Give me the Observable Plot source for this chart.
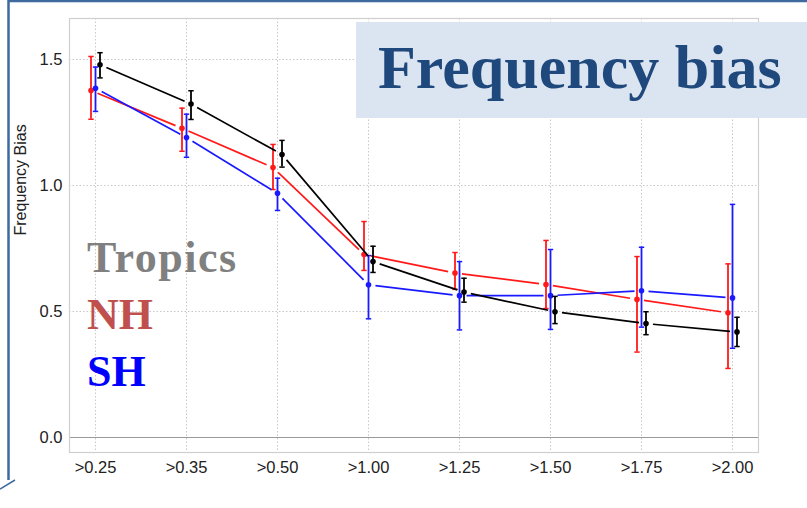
<!DOCTYPE html>
<html>
<head>
<meta charset="utf-8">
<script src="https://cdn.jsdelivr.net/npm/d3@7"></script>
<script src="https://cdn.jsdelivr.net/npm/@observablehq/plot@0.6"></script>
<style>
  html, body { margin: 0; padding: 0; background: #fff; overflow: hidden; }
  #chart svg { display: block; }
</style>
</head>
<body>
<div id="chart"></div>
<script>
const categories = [">0.25", ">0.35", ">0.50", ">1.00", ">1.25", ">1.50", ">1.75", ">2.00"];
const yTicks = [0, 0.5, 1.0, 1.5];

const tropics   = [1.479, 1.323, 1.123, 0.698, 0.577, 0.499, 0.452, 0.419];
const tropicsLo = [1.427, 1.262, 1.073, 0.655, 0.537, 0.452, 0.408, 0.361];
const tropicsHi = [1.527, 1.376, 1.179, 0.759, 0.632, 0.560, 0.499, 0.477];

const nh   = [1.377, 1.227, 1.071, 0.726, 0.653, 0.607, 0.548, 0.495];
const nhLo = [1.263, 1.136, 0.984, 0.663, 0.588, 0.512, 0.339, 0.274];
const nhHi = [1.512, 1.307, 1.163, 0.857, 0.734, 0.782, 0.718, 0.689];

const sh   = [1.386, 1.190, 0.969, 0.606, 0.563, 0.563, 0.582, 0.554];
const shLo = [1.294, 1.112, 0.901, 0.471, 0.427, 0.429, 0.438, 0.354];
const shHi = [1.470, 1.283, 1.029, 0.722, 0.698, 0.746, 0.755, 0.925];

const seriesNames = ["NH", "SH", "Tropics"];
const seriesColors = ["#ff1a1a", "#1a1aff", "#000000"];
const seriesOffsets = [-4.5, 0, 4.5];
const legendColors = ["#808080", "#c0504d", "#0000ff"];
const legendLabels = ["Tropics", "NH", "SH"];
const titleText = "Frequency bias";
const yLabel = "Frequency Bias";

function rowsOf(v, lo, hi) {
  return categories.map((c, i) => ({cat: c, v: v[i], lo: lo[i], hi: hi[i]}));
}
function segsOf(rows) {
  return rows.slice(0, -1).map((r, i) => ({c1: r.cat, v1: r.v, c2: rows[i + 1].cat, v2: rows[i + 1].v}));
}
const seriesRows = [rowsOf(nh, nhLo, nhHi), rowsOf(sh, shLo, shHi), rowsOf(tropics, tropicsLo, tropicsHi)];

// horizontal cap symbol for error bars
const capSymbol = {draw(ctx) { ctx.moveTo(-2.7, 0); ctx.lineTo(2.7, 0); }};

const seriesMarks = seriesRows.flatMap((rows, k) => {
  const stroke = seriesColors[k], dx = seriesOffsets[k];
  return [
    Plot.arrow(segsOf(rows), {x1: "c1", y1: "v1", x2: "c2", y2: "v2", stroke, strokeWidth: 1.7,
      headLength: 0, inset: 7, insetStart: 7, insetEnd: 7, strokeLinecap: "butt", dx}),
    Plot.ruleX(rows, {x: "cat", y1: "lo", y2: "hi", stroke, strokeWidth: 1.8, dx}),
    Plot.dot(rows, {x: "cat", y: "lo", symbol: capSymbol, stroke, strokeWidth: 1.5, fill: "none", dx}),
    Plot.dot(rows, {x: "cat", y: "hi", symbol: capSymbol, stroke, strokeWidth: 1.5, fill: "none", dx}),
    Plot.dot(rows, {x: "cat", y: "v", fill: stroke, r: 2.8, dx})
  ];
});

const chart = Plot.plot({
  width: 807,
  height: 508,
  marginLeft: 69,
  marginRight: 49,
  marginTop: 18,
  marginBottom: 56,
  style: {fontFamily: "'Liberation Sans', Arial, sans-serif", fontSize: "16.5px", color: "#222", background: "#fff"},
  x: {type: "point", domain: categories, padding: 0.28, label: null, tickSize: 0, tickPadding: 9},
  y: {domain: [-0.0595, 1.6627], ticks: yTicks, tickFormat: d3.format(".1f"), label: null, tickSize: 0, tickPadding: 7},
  marks: [
    Plot.ruleX(categories, {x: d => d, stroke: "#c8c8c8", strokeDasharray: "1.5,2", strokeWidth: 1}),
    Plot.ruleY(yTicks.slice(1), {y: d => d, stroke: "#c8c8c8", strokeDasharray: "1.5,2", strokeWidth: 1}),
    Plot.ruleY([0], {y: d => d, stroke: "#999", strokeWidth: 1.2}),
    Plot.frame({stroke: "#cfcfcf", strokeWidth: 1.2}),
    Plot.text([yLabel], {frameAnchor: "left", text: d => d, rotate: -90, dx: -48.5, fontSize: 16, fill: "#222"}),
    ...seriesMarks
  ]
});
document.getElementById("chart").appendChild(chart);

// Slide decorations: title box, text legend, frame lines
const svg = d3.select(chart);
svg.append("rect").attr("x", 356).attr("y", 22).attr("width", 451).attr("height", 96).attr("fill", "#dbe5f1");
svg.append("text").attr("x", 378).attr("y", 88).attr("text-anchor", "start")
  .attr("font-family", "'Liberation Serif', 'DejaVu Serif', serif").attr("font-weight", "bold")
  .attr("font-size", 62).attr("fill", "#1f497d").text(titleText);
const legendBaselines = [272, 329, 386];
legendLabels.forEach((t, i) => {
  const el = svg.append("text").attr("x", 87).attr("y", legendBaselines[i]).attr("text-anchor", "start")
    .attr("font-family", "'Liberation Serif', 'DejaVu Serif', serif").attr("font-weight", "bold")
    .attr("font-size", 44).attr("fill", legendColors[i]).text(t);
  if (t === "Tropics") el.attr("textLength", 149).attr("lengthAdjust", "spacing");
});
svg.append("path").attr("d", "M8.5,480 L8.5,1 L807,1").attr("fill", "none").attr("stroke", "#3e6aa0").attr("stroke-width", 2.5);
svg.append("path").attr("d", "M0,489 L15,480").attr("fill", "none").attr("stroke", "#3e6aa0").attr("stroke-width", 1.5);
</script>
</body>
</html>
